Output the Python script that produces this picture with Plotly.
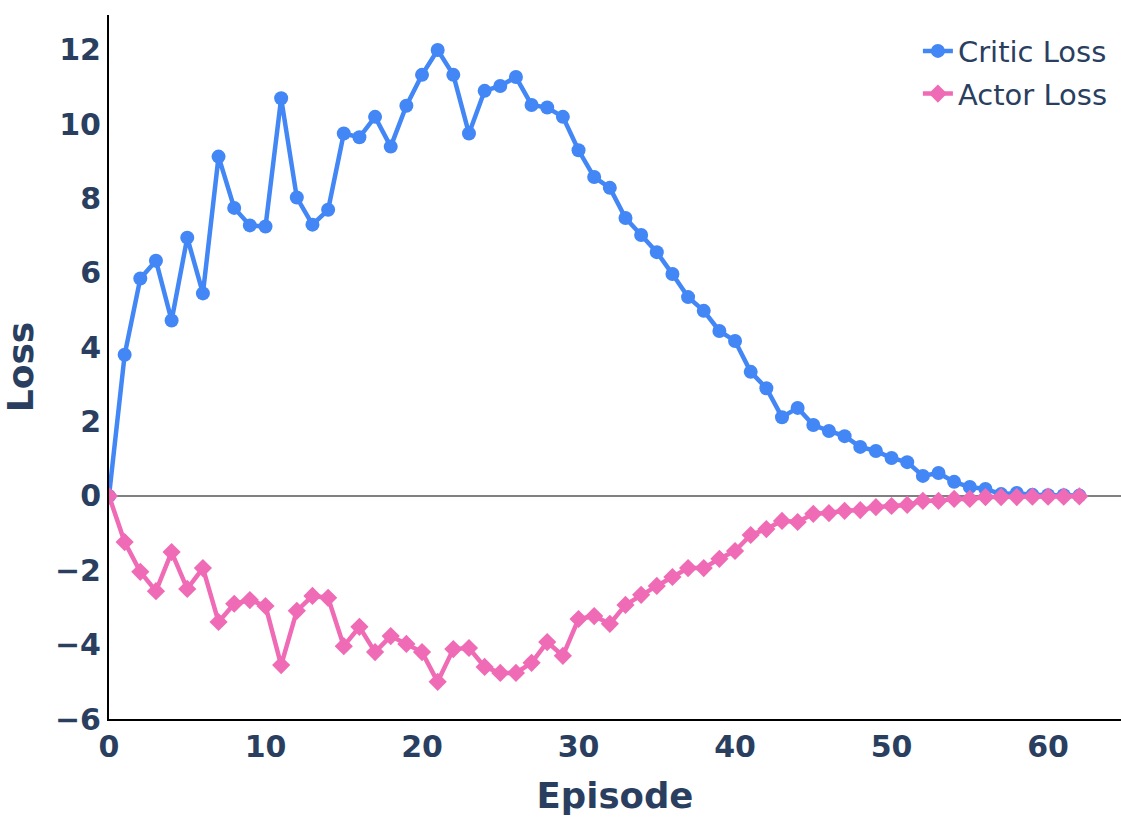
import plotly.graph_objects as go

episodes = list(range(63))

critic_loss = [0.0, 3.8, 5.85, 6.33, 4.72, 6.95, 5.45, 9.13, 7.75, 7.28,
               7.25, 10.7, 8.03, 7.3, 7.7, 9.75, 9.65, 10.2, 9.4, 10.5,
               11.33, 12.0, 11.33, 9.75, 10.9, 11.03, 11.27, 10.52, 10.45, 10.2,
               9.3, 8.58, 8.29, 7.48, 7.02, 6.56, 5.97, 5.35, 4.98, 4.44,
               4.17, 3.34, 2.9, 2.12, 2.37, 1.91, 1.75, 1.61, 1.32, 1.21,
               1.02, 0.91, 0.54, 0.62, 0.38, 0.24, 0.19, 0.05, 0.08, 0.03,
               0.02, 0.02, 0.01]

actor_loss = [0.0, -1.24, -2.04, -2.56, -1.51, -2.5, -1.94, -3.39, -2.9, -2.8,
              -2.96, -4.55, -3.09, -2.69, -2.74, -4.04, -3.52, -4.2, -3.77, -3.98,
              -4.2, -5.0, -4.12, -4.09, -4.6, -4.76, -4.76, -4.49, -3.93, -4.3,
              -3.31, -3.23, -3.44, -2.93, -2.66, -2.42, -2.18, -1.94, -1.94, -1.69,
              -1.48, -1.05, -0.89, -0.67, -0.7, -0.48, -0.46, -0.4, -0.38, -0.3,
              -0.27, -0.24, -0.13, -0.13, -0.08, -0.08, -0.03, -0.03, -0.03, -0.02,
              -0.02, -0.02, -0.01]

x_ticks = [0, 10, 20, 30, 40, 50, 60]
y_ticks = [-6, -4, -2, 0, 2, 4, 6, 8, 10, 12]

FONT = "DejaVu Sans"
TXT = "#2a3f5f"

fig = go.Figure()
fig.add_trace(go.Scatter(
    x=episodes, y=critic_loss, mode="lines+markers", name="Critic Loss",
    legendgroup="c",
    line=dict(color="#4287f5", width=4.5),
    marker=dict(symbol="circle", size=14, color="#4287f5"),
))
fig.add_trace(go.Scatter(
    x=episodes, y=actor_loss, mode="lines+markers", name="Actor Loss",
    legendgroup="a",
    line=dict(color="#f06bb5", width=4.5),
    marker=dict(symbol="diamond", size=14, color="#f06bb5"),
))

fig.update_layout(
    width=1121, height=817,
    margin=dict(l=109, r=0, t=15, b=98, autoexpand=False),
    paper_bgcolor="white", plot_bgcolor="white",
    font=dict(family=FONT, color=TXT),
    legend=dict(x=0.992, xanchor="right", y=0.985, yanchor="top",
                font=dict(size=29, family=FONT, color=TXT),
                traceorder="grouped", tracegroupgap=2,
                bgcolor="rgba(0,0,0,0)", itemwidth=30),
    xaxis=dict(
        title=dict(text="<b>Episode</b>", font=dict(size=35.5, family=FONT, color=TXT), standoff=20),
        range=[0, 64.66], tickvals=x_ticks,
        ticktext=[f"<b>{v}</b>" for v in x_ticks],
        tickfont=dict(size=30, family=FONT, color=TXT),
        showgrid=False, zeroline=False, showline=True, linecolor="black", linewidth=2,
        ticks="", automargin=True,
    ),
    yaxis=dict(
        title=dict(text="<b>Loss</b>", font=dict(size=36, family=FONT, color=TXT), standoff=20),
        range=[-6, 12.94], tickvals=y_ticks,
        ticktext=[f"<b>{'\u2212' if v < 0 else ''}{abs(v)}</b>" for v in y_ticks],
        tickfont=dict(size=30, family=FONT, color=TXT),
        showgrid=False, zeroline=True, zerolinecolor="#808080", zerolinewidth=2,
        showline=True, linecolor="black", linewidth=2, ticks="", automargin=True,
    ),
    showlegend=True,
)

fig.write_html(
    "out.html",
    config={"displayModeBar": False},
    post_script="document.body.style.margin='0';document.body.style.overflow='hidden';",
)
